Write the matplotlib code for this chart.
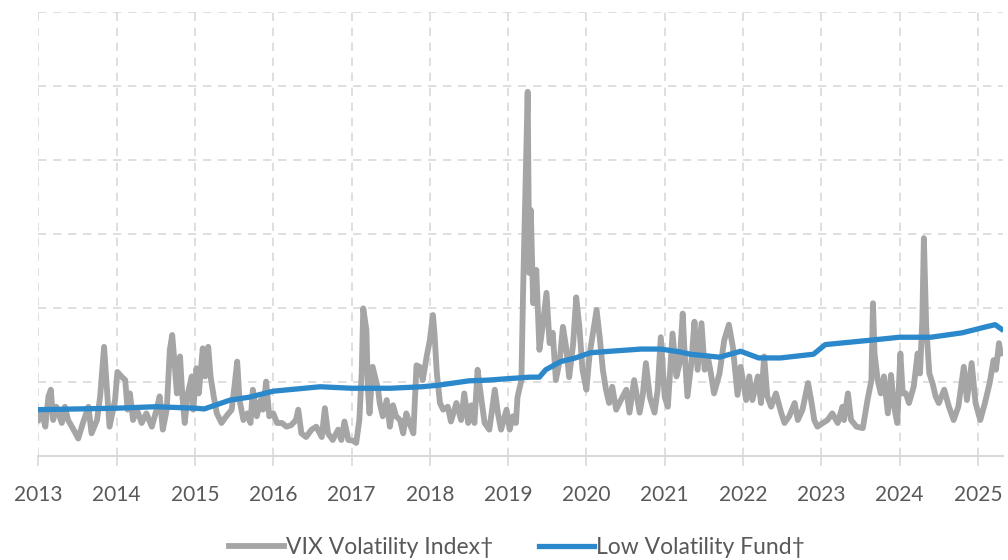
import matplotlib.pyplot as plt
import numpy as np

# VIX index, in chart units (grid step = 10)
vix_t = [2013.00, 2013.04, 2013.09, 2013.13, 2013.16, 2013.19, 2013.23, 2013.30, 2013.34, 2013.38,
         2013.45, 2013.51, 2013.57, 2013.64, 2013.68, 2013.75, 2013.79, 2013.84, 2013.88, 2013.91,
         2013.98, 2014.01, 2014.06, 2014.11, 2014.14, 2014.17, 2014.21, 2014.26, 2014.32, 2014.38,
         2014.45, 2014.51, 2014.55, 2014.59, 2014.64, 2014.68, 2014.71, 2014.74, 2014.77, 2014.81,
         2014.84, 2014.87, 2014.91, 2014.96, 2014.98, 2015.02, 2015.05, 2015.10, 2015.13, 2015.17,
         2015.20, 2015.24, 2015.28, 2015.34, 2015.40, 2015.47, 2015.51, 2015.54, 2015.57, 2015.62,
         2015.67, 2015.71, 2015.74, 2015.79, 2015.84, 2015.87, 2015.91, 2015.95, 2016.00, 2016.05,
         2016.11, 2016.17, 2016.23, 2016.29, 2016.32, 2016.36, 2016.42, 2016.49, 2016.55, 2016.62,
         2016.66, 2016.70, 2016.76, 2016.83, 2016.87, 2016.91, 2016.96, 2017.02, 2017.06, 2017.10,
         2017.13, 2017.15, 2017.19, 2017.21, 2017.23, 2017.27, 2017.31, 2017.34, 2017.36, 2017.40,
         2017.45, 2017.49, 2017.53, 2017.57, 2017.62, 2017.66, 2017.70, 2017.74, 2017.79, 2017.83,
         2017.87, 2017.91, 2017.96, 2018.00, 2018.04, 2018.06, 2018.09, 2018.13, 2018.17, 2018.23,
         2018.27, 2018.34, 2018.40, 2018.44, 2018.49, 2018.53, 2018.57, 2018.61, 2018.66, 2018.70,
         2018.76, 2018.83, 2018.87, 2018.91, 2018.98, 2019.02, 2019.06, 2019.10, 2019.12, 2019.17,
         2019.19, 2019.21, 2019.25, 2019.27, 2019.29, 2019.32, 2019.36, 2019.38, 2019.40, 2019.44,
         2019.49, 2019.53, 2019.57, 2019.61, 2019.66, 2019.70, 2019.74, 2019.78, 2019.83, 2019.87,
         2019.91, 2019.95, 2020.00, 2020.04, 2020.13, 2020.17, 2020.21, 2020.25, 2020.29, 2020.33,
         2020.38, 2020.44, 2020.51, 2020.55, 2020.61, 2020.68, 2020.72, 2020.76, 2020.81, 2020.87,
         2020.91, 2020.95, 2021.00, 2021.04, 2021.10, 2021.15, 2021.19, 2021.23, 2021.25, 2021.29,
         2021.34, 2021.38, 2021.42, 2021.47, 2021.51, 2021.55, 2021.59, 2021.63, 2021.70, 2021.76,
         2021.82, 2021.87, 2021.93, 2021.97, 2022.04, 2022.08, 2022.12, 2022.19, 2022.23, 2022.27,
         2022.31, 2022.36, 2022.42, 2022.49, 2022.53, 2022.59, 2022.66, 2022.70, 2022.76, 2022.83,
         2022.87, 2022.91, 2022.95, 2023.02, 2023.08, 2023.14, 2023.21, 2023.27, 2023.29, 2023.34,
         2023.38, 2023.45, 2023.53, 2023.59, 2023.64, 2023.66, 2023.68, 2023.72, 2023.76, 2023.80,
         2023.85, 2023.89, 2023.93, 2023.97, 2024.01, 2024.04, 2024.08, 2024.12, 2024.18, 2024.23,
         2024.26, 2024.29, 2024.31, 2024.34, 2024.38, 2024.42, 2024.46, 2024.50, 2024.57, 2024.63,
         2024.69, 2024.75, 2024.82, 2024.86, 2024.92, 2024.97, 2025.03, 2025.09, 2025.15, 2025.20,
         2025.23, 2025.27, 2025.29]
vix_v = [4.8, 6.2, 3.9, 8.0, 8.9, 4.8, 6.6, 4.4, 6.6, 4.8,
         3.5, 2.3, 4.4, 6.6, 3.0, 4.8, 8.0, 14.7, 8.4, 3.9,
         7.5, 11.3, 10.7, 10.2, 6.2, 8.4, 4.8, 6.2, 4.4, 5.7,
         3.9, 6.2, 8.0, 3.5, 6.2, 14.3, 16.3, 12.5, 8.4, 13.4,
         8.0, 4.4, 8.4, 10.7, 6.2, 11.8, 8.4, 14.5, 10.7, 14.7,
         10.7, 8.0, 5.7, 4.4, 5.3, 6.2, 9.8, 12.7, 7.5, 4.8,
         5.7, 4.4, 8.9, 5.3, 7.5, 6.2, 10.0, 5.3, 5.7, 4.4,
         4.4, 3.9, 4.1, 4.8, 6.2, 3.0, 2.5, 3.5, 3.9, 2.5,
         6.4, 3.0, 2.1, 3.5, 2.1, 4.6, 2.1, 2.0, 1.7, 4.8,
         11.1, 19.9, 17.0, 8.9, 5.7, 12.0, 10.2, 8.9, 7.1, 5.3,
         7.5, 3.9, 6.8, 5.3, 4.8, 3.0, 5.7, 4.4, 3.0, 12.2,
         12.0, 10.2, 13.4, 15.6, 19.0, 16.5, 11.1, 7.1, 6.2, 6.6,
         4.6, 7.1, 4.8, 8.4, 4.4, 6.8, 4.4, 11.6, 7.5, 4.4,
         3.5, 8.9, 5.7, 3.5, 6.2, 3.5, 5.3, 4.4, 7.9, 10.2,
         21.5, 30.9, 49.2, 24.7, 33.2, 20.6, 25.1, 19.7, 14.3, 17.4,
         22.0, 15.2, 16.6, 10.2, 12.9, 17.4, 14.7, 10.6, 15.0, 21.4,
         17.4, 11.6, 8.9, 13.6, 19.7, 16.0, 11.6, 8.9, 7.1, 9.3,
         6.2, 7.5, 8.9, 5.8, 10.2, 5.8, 8.2, 12.5, 7.9, 5.8,
         8.9, 16.0, 7.9, 6.6, 16.5, 10.7, 12.5, 19.2, 14.7, 8.0,
         12.5, 18.1, 11.6, 17.9, 11.6, 13.4, 11.1, 8.4, 11.1, 15.6,
         17.7, 14.7, 8.2, 12.0, 7.5, 10.7, 7.5, 10.7, 7.1, 13.4,
         8.0, 6.6, 8.4, 5.7, 4.4, 5.3, 7.1, 4.8, 6.2, 9.8,
         7.5, 4.8, 3.9, 4.4, 4.8, 5.7, 4.4, 6.6, 4.8, 8.4,
         4.8, 3.9, 3.7, 7.5, 10.2, 20.6, 13.8, 10.2, 8.4, 10.7,
         5.7, 10.9, 6.6, 4.4, 13.8, 8.4, 8.4, 7.1, 9.3, 13.8,
         11.1, 18.3, 29.4, 17.4, 11.1, 9.8, 8.0, 7.1, 8.9, 6.6,
         4.8, 6.6, 12.0, 7.5, 12.5, 7.1, 4.8, 7.1, 9.8, 12.9,
         11.6, 15.2, 13.8]

# Low Volatility Fund
fund_t = [2013.00, 2013.50, 2014.00, 2014.50, 2015.00, 2015.12, 2015.45, 2015.70, 2016.00, 2016.30,
          2016.60, 2017.00, 2017.50, 2017.90, 2018.10, 2018.50, 2018.75, 2019.00, 2019.28, 2019.40,
          2019.48, 2019.67, 2019.86, 2020.05, 2020.30, 2020.70, 2020.95, 2021.20, 2021.33, 2021.70,
          2021.97, 2022.20, 2022.48, 2022.73, 2022.90, 2023.05, 2023.24, 2023.63, 2024.00, 2024.40,
          2024.80, 2025.10, 2025.22, 2025.30]
fund_v = [6.2, 6.3, 6.4, 6.6, 6.4, 6.3, 7.5, 7.9, 8.7, 9.0,
          9.3, 9.1, 9.1, 9.3, 9.5, 10.1, 10.2, 10.4, 10.6, 10.6,
          11.6, 12.7, 13.2, 13.9, 14.1, 14.4, 14.4, 14.0, 13.7, 13.3,
          14.1, 13.2, 13.2, 13.5, 13.7, 15.0, 15.2, 15.6, 16.0, 16.0,
          16.6, 17.4, 17.7, 17.1]

years = list(range(2013, 2026))

plt.rcParams['font.family'] = ['Lato', 'DejaVu Sans']

fig = plt.figure(figsize=(10.08, 5.6), dpi=100)
ax = fig.add_axes([0.038, 0.1866, 0.957, 0.792])

ax.plot(vix_t, vix_v, color='#A5A5A5', lw=4.2, solid_joinstyle='round',
        label='VIX Volatility Index\u2020', zorder=3)
ax.plot(fund_t, fund_v, color='#2A88CB', lw=3.8, solid_joinstyle='round',
        label='Low Volatility Fund\u2020', zorder=4)

ax.set_xlim(2013, 2025.32)
ax.set_ylim(0, 60)
ax.set_xticks(years)
ax.set_xticklabels([str(y) for y in years])
ax.set_yticks(np.arange(0, 61, 10))
ax.tick_params(axis='y', left=False, labelleft=False)
ax.tick_params(axis='x', length=7, width=1.2, color='#D9D9D9', pad=14,
               labelsize=15, labelcolor='#595959')

ax.grid(True, color='#D9D9D9', lw=1.2, ls=(0, (5, 4)), zorder=0)
for s in ['top', 'right', 'left']:
    ax.spines[s].set_visible(False)
ax.spines['bottom'].set_color('#D9D9D9')
ax.spines['bottom'].set_linewidth(1.5)

leg = fig.legend(loc='center', bbox_to_anchor=(0.513, 0.022), ncol=2, frameon=False,
                 fontsize=16.5, handlelength=2.4, columnspacing=2.0, handletextpad=0.1,
                 labelcolor='#595959')

fig.savefig('out.png', dpi=100)
